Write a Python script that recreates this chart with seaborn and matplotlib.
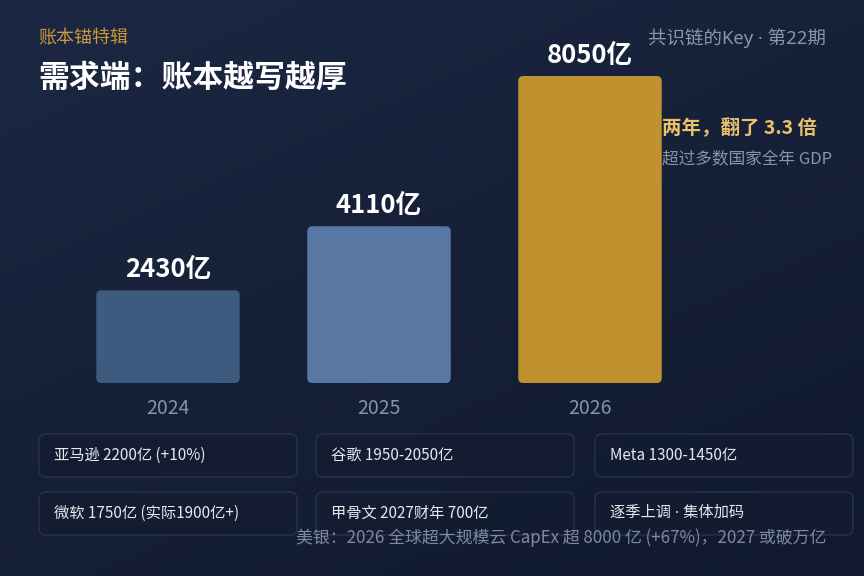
import numpy as np
import matplotlib
matplotlib.use("Agg")
import matplotlib.pyplot as plt
from matplotlib.patches import FancyBboxPatch
import seaborn as sns

years = ["2024", "2025", "2026"]
capex = [2430, 4110, 8050]
value_labels = ["2430亿", "4110亿", "8050亿"]
notes = ["亚马逊 2200亿 (+10%)", "谷歌 1950-2050亿", "Meta 1300-1450亿",
         "微软 1750亿 (实际1900亿+)", "甲骨文 2027财年 700亿", "逐季上调 · 集体加码"]
kicker = "账本锚特辑"
title = "需求端：账本越写越厚"
issue = "共识链的Key · 第22期"
callout = "两年，翻了 3.3 倍"
callout_sub = "超过多数国家全年 GDP"
footer = "美银：2026 全球超大规模云 CapEx 超 8000 亿 (+67%)，2027 或破万亿"

bar_colors = ["#3d5a7f", "#5877a3", "#bf922f"]

sns.set_theme(style="white")
plt.rcParams['font.family'] = ['Noto Sans CJK SC', 'DejaVu Sans']
mixed = ['Noto Sans', 'Noto Sans CJK SC']

W, H = 864, 576
fig = plt.figure(figsize=(W / 100, H / 100), dpi=100)

def fx(x):
    return x / W

def fy(y):
    return 1 - y / H

# background gradient
bg = fig.add_axes([0, 0, 1, 1], zorder=-10)
gx, gy = np.meshgrid(np.linspace(0, 1, 200), np.linspace(0, 1, 200))
grad = 0.6 * gy + 0.4 * gx
c_top = np.array([0x1c, 0x27, 0x43]) / 255
c_bot = np.array([0x10, 0x19, 0x2d]) / 255
img = c_top[None, None, :] * (1 - grad[..., None]) + c_bot[None, None, :] * grad[..., None]
bg.imshow(img, aspect="auto", extent=[0, 1, 0, 1], origin="upper")
bg.axis("off")

# main bar axes: baseline at y=383px, x centres at 168 / 379 / 590 px
unit = 211
ymax = 9000
top_px = 307 * ymax / 8050
ax = fig.add_axes([fx(168 - unit / 2), fy(383), 3 * unit / W, top_px / H])
ax.set_facecolor("none")
sns.barplot(x=years, y=capex, hue=years, palette=bar_colors, legend=False,
            width=0.68, ax=ax, saturation=1)
ax.set_xlim(-0.5, 2.5)
ax.set_ylim(0, ymax)

# swap rectangles for rounded ones
aspect = (ymax / top_px) * unit
for p in list(ax.patches):
    x0, w, h = p.get_x(), p.get_width(), p.get_height()
    col = p.get_facecolor()
    p.remove()
    ax.add_patch(FancyBboxPatch((x0, 0), w, h,
                                boxstyle="round,pad=0,rounding_size=0.024",
                                mutation_aspect=aspect, fc=col, ec="none", lw=0))

for i, v in enumerate(capex):
    ax.annotate(value_labels[i], (i, v), xytext=(0, 15), textcoords="offset points",
                ha="center", va="center", color="white", fontsize=18.5,
                fontweight="bold", annotation_clip=False)

ax.set_yticks([])
ax.set_xlabel("")
ax.set_ylabel("")
ax.tick_params(axis="x", length=0, pad=11, labelsize=14, labelcolor="#8793aa")
for s in ax.spines.values():
    s.set_visible(False)

# header texts
fig.text(fx(38), fy(38), kicker, color="#c9993b", fontsize=13, va="center", ha="left")
fig.text(fx(38), fy(78), title, color="white", fontsize=22.2, fontweight="bold",
         va="center", ha="left")
fig.text(fx(826), fy(38), issue, color="#8d95a8", fontsize=13.3, va="center", ha="right",
         family=mixed)
fig.text(fx(662), fy(128), callout, color="#e9c26b", fontsize=14, fontweight="bold",
         va="center", ha="left")
fig.text(fx(662), fy(160), callout_sub, color="#8a93a7", fontsize=12, va="center", ha="left")

# note cards
col_left = [39, 316, 595]
row_top = [434, 492]
bw, bh = 258, 43
for k, note in enumerate(notes):
    r, c = divmod(k, 3)
    x0, y0 = col_left[c], row_top[r]
    fig.patches.append(FancyBboxPatch((fx(x0), fy(y0 + bh)), bw / W, bh / H,
                                      boxstyle="round,pad=0,rounding_size=0.008",
                                      mutation_aspect=W / H,
                                      transform=fig.transFigure, fc="#131c31",
                                      ec="#2a3550", lw=1, alpha=0.9, figure=fig))
    fig.text(fx(x0 + 15), fy(y0 + bh / 2), note, color="#e4e8ef", fontsize=11,
             va="center", ha="left", family=mixed if "·" in note else None)

fig.text(fx(826), fy(538), footer, color="#7e899e", fontsize=12.2, va="center", ha="right")

fig.savefig("out.png", dpi=100)
